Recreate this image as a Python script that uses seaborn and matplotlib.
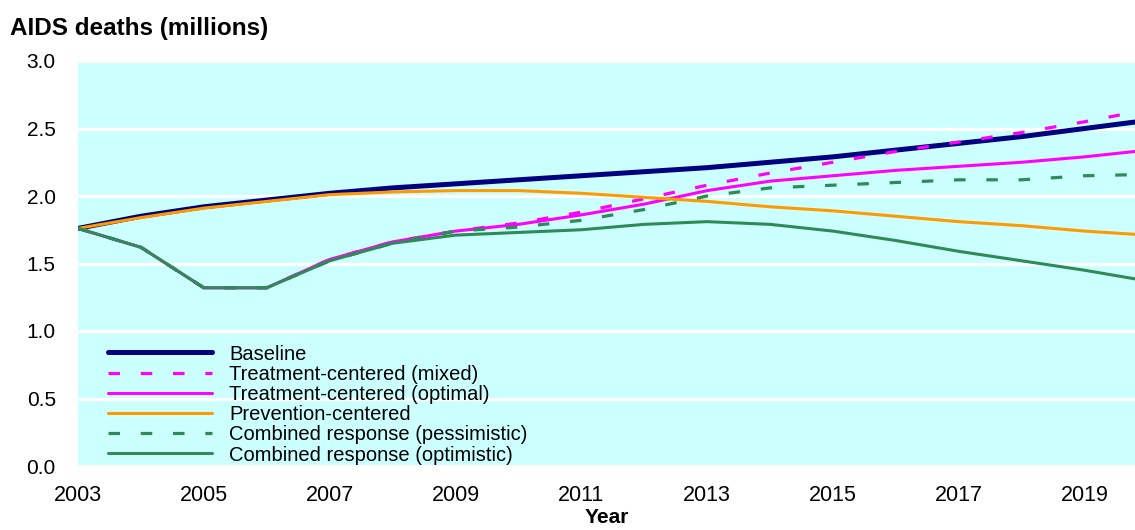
import numpy as np
import pandas as pd
import matplotlib.pyplot as plt
import seaborn as sns
from matplotlib.ticker import MultipleLocator

sns.set_style('white')
plt.rcParams['font.family'] = ['Liberation Sans', 'DejaVu Sans']
plt.rcParams['text.color'] = 'black'
plt.rcParams['xtick.labelcolor'] = 'black'
plt.rcParams['ytick.labelcolor'] = 'black'
plt.rcParams['axes.labelcolor'] = 'black'

years = list(range(2003, 2021))

baseline = [1.76, 1.85, 1.92, 1.97, 2.02, 2.06, 2.09, 2.12, 2.15, 2.18, 2.21, 2.25, 2.29, 2.34, 2.39, 2.44, 2.50, 2.56]
treat_mixed = [1.76, 1.62, 1.32, 1.32, 1.53, 1.66, 1.74, 1.80, 1.88, 1.98, 2.08, 2.17, 2.25, 2.33, 2.40, 2.47, 2.55, 2.64]
treat_optimal = [1.76, 1.62, 1.32, 1.32, 1.53, 1.66, 1.74, 1.79, 1.86, 1.94, 2.04, 2.11, 2.15, 2.19, 2.22, 2.25, 2.29, 2.34]
prevention = [1.76, 1.84, 1.91, 1.96, 2.01, 2.03, 2.04, 2.04, 2.02, 1.99, 1.96, 1.92, 1.89, 1.85, 1.81, 1.78, 1.74, 1.71]
comb_pess = [1.76, 1.62, 1.32, 1.32, 1.52, 1.65, 1.74, 1.77, 1.82, 1.90, 2.00, 2.06, 2.08, 2.10, 2.12, 2.12, 2.15, 2.16]
comb_opt = [1.76, 1.62, 1.32, 1.32, 1.52, 1.65, 1.71, 1.73, 1.75, 1.79, 1.81, 1.79, 1.74, 1.67, 1.59, 1.52, 1.45, 1.37]

labels = ['Baseline', 'Treatment-centered (mixed)', 'Treatment-centered (optimal)',
          'Prevention-centered', 'Combined response (pessimistic)', 'Combined response (optimistic)']
series = [baseline, treat_mixed, treat_optimal, prevention, comb_pess, comb_opt]
colors = ['#000080', '#FF00FF', '#FF00FF', '#FF9900', '#2E8B57', '#2E8B57']
widths = [3.6, 2.3, 2.2, 2.2, 2.3, 2.2]
dashed = [False, True, False, False, True, False]

fig = plt.figure(figsize=(11.35, 5.3), dpi=100)
ax = fig.add_axes([78 / 1135, 64 / 530, 1 - 78 / 1135, 405 / 530])
ax.set_facecolor('#CCFFFF')

for lab, vals, c, w, d in zip(labels, series, colors, widths, dashed):
    df = pd.DataFrame({'Year': years, 'Deaths': vals})
    sns.lineplot(data=df, x='Year', y='Deaths', color=c, lw=w, ax=ax, label=lab)
    if d:
        ax.lines[-1].set_dashes((3.6, 6.5))

ax.set_xlim(2003, 2019.8)
ax.set_ylim(0, 3.0)
ax.set_yticks(np.arange(0, 3.01, 0.5))
ax.set_yticklabels(['%.1f' % v for v in np.arange(0, 3.01, 0.5)], fontsize=15)
ax.set_xticks(range(2003, 2020, 2))
ax.set_xticklabels([str(y) for y in range(2003, 2020, 2)], fontsize=15.5)
ax.xaxis.set_minor_locator(MultipleLocator(1))
ax.tick_params(axis='x', which='both', direction='in', color='white', length=4, width=3, pad=14)
ax.tick_params(axis='y', length=0, pad=16)
ax.grid(axis='y', color='white', lw=2.2)
ax.set_axisbelow(True)
for s in ax.spines.values():
    s.set_visible(False)

ax.set_xlabel('Year', fontsize=15, fontweight='bold', labelpad=1)
ax.set_ylabel('')
fig.text(10 / 1135, 1 - 28 / 530, 'AIDS deaths (millions)', fontsize=17.5, fontweight='bold', va='center', ha='left')

ax.legend(loc='upper left', bbox_to_anchor=(0.028, 0.30), frameon=False, fontsize=14.5,
          handlelength=5.2, handletextpad=0.85, labelspacing=0.06, borderpad=0, borderaxespad=0)

fig.savefig('out.png', dpi=100)
